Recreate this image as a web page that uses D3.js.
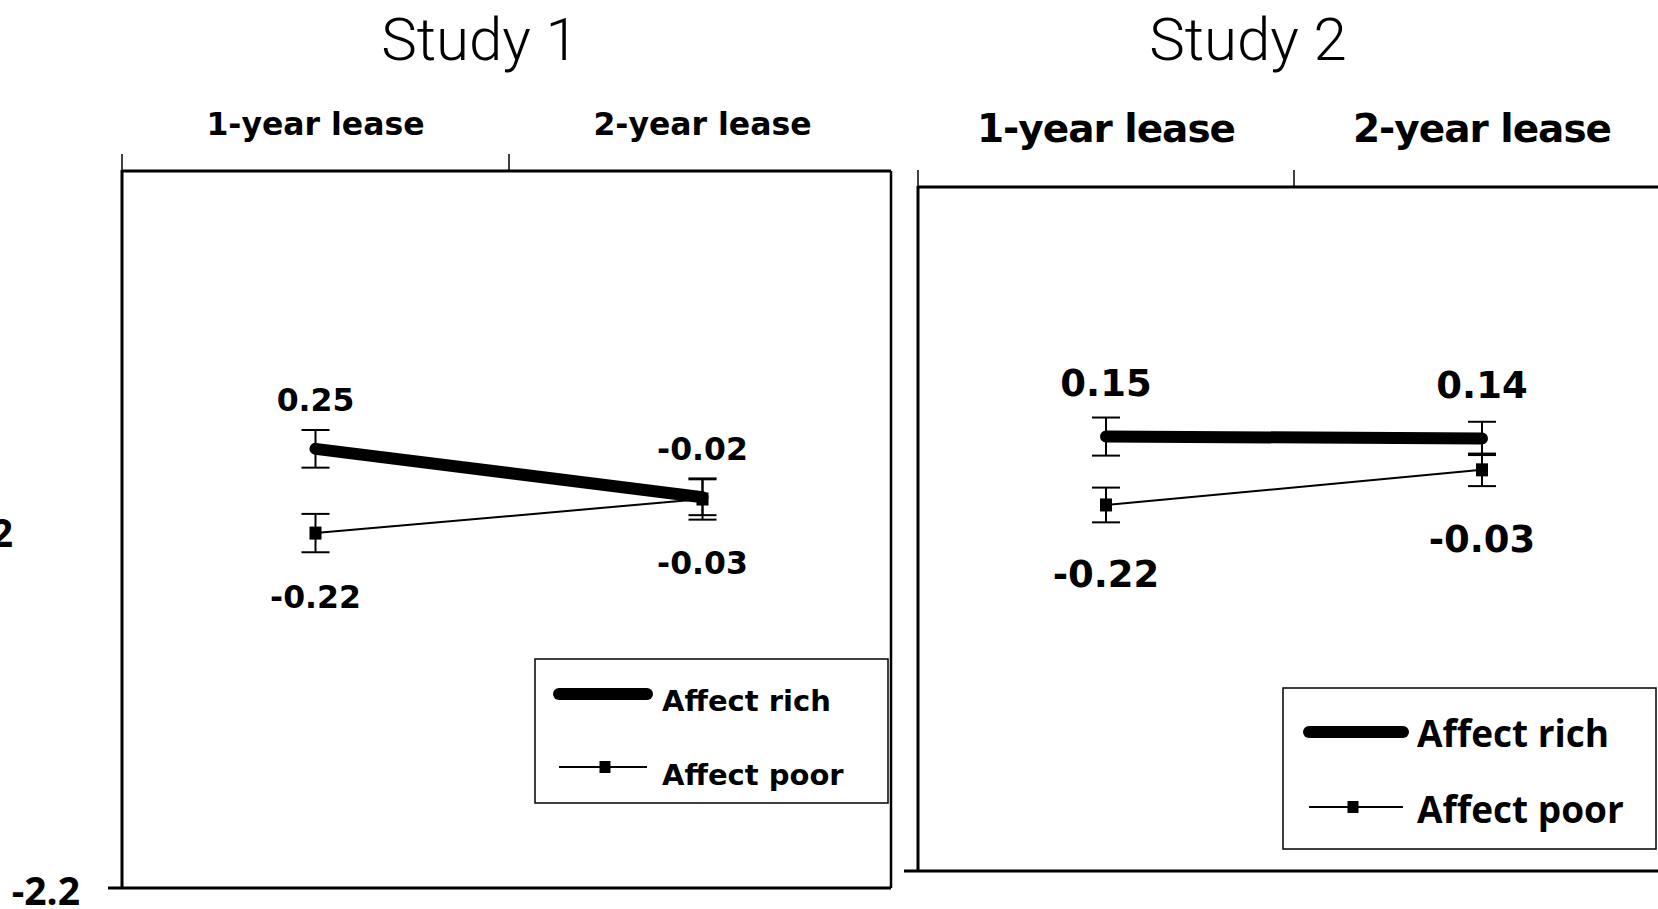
<!DOCTYPE html>
<html>
<head>
<meta charset="utf-8">
<script src="https://cdn.jsdelivr.net/npm/d3@7"></script>
<style>
  body { margin: 0; background: #fff; }
  svg { display: block; }
</style>
</head>
<body>
<div id="chart"></div>
<script>
// values
const categories = ["1-year lease", "2-year lease"];
const studies = ["Study 1", "Study 2"];
const seriesNames = ["Affect rich", "Affect poor"];

const study1Rich = [0.25, -0.02];
const study1Poor = [-0.22, -0.03];
const study1RichErr = [0.105, 0.10];
const study1PoorErr = [0.107, 0.115];

const study2Rich = [0.15, 0.14];
const study2Poor = [-0.22, -0.03];
const study2RichErr = [0.103, 0.09];
const study2PoorErr = [0.094, 0.088];

const yDomain1 = [-2.2, 1.8];
const yDomain2 = [-2.2, 1.5];
const yTicks = [-2.2, -0.2];

const width = 1658, height = 909;

// where each panel sits on the page (px)
const panels = [
  { title: studies[0], titleX: 480, left: 122, right: 896, boxRight: 891, top: 171, bottom: 888,
    yDomain: yDomain1, rich: study1Rich, poor: study1Poor, richErr: study1RichErr, poorErr: study1PoorErr,
    catFont: 31.5, catSpacing: 0, catY: 124, valFont: 31.5, above: 49, below: 64,
    legend: { x: 535, y: 659, w: 353, h: 144, line: [559, 647], richY: 694, poorY: 767, marker: 605,
              textX: 662, richText: 701, poorText: 775, family: "DejaVu Sans", size: 29 } },
  { title: studies[1], titleX: 1248, left: 918, right: 1670, boxRight: null, top: 187, bottom: 871,
    yDomain: yDomain2, rich: study2Rich, poor: study2Poor, richErr: study2RichErr, poorErr: study2PoorErr,
    catFont: 39, catSpacing: -1, catY: 128, valFont: 37, above: 54, below: 69,
    legend: { x: 1283, y: 688, w: 373, h: 161, line: [1309, 1403], richY: 732, poorY: 807, marker: 1353,
              textX: 1417, richText: 734, poorText: 810, family: "Open Sans", size: 37 } }
];

const svg = d3.select("#chart")
    .append("svg")
    .attr("width", width)
    .attr("height", height)
    .attr("viewBox", [0, 0, width, height]);

svg.append("rect").attr("width", width).attr("height", height).attr("fill", "#fff");

const boldFont = "'DejaVu Sans', sans-serif";

panels.forEach((p, pi) => {
    const x = d3.scaleBand().domain(categories).range([p.left, p.right]);
    const y = d3.scaleLinear().domain(p.yDomain).range([p.bottom, p.top]);
    const cx = i => x(categories[i]) + x.bandwidth() / 2;
    const g = svg.append("g");

    // title
    g.append("text")
        .attr("x", p.titleX).attr("y", 38).attr("dy", "0.36em")
        .attr("text-anchor", "middle")
        .style("font-family", "Roboto, sans-serif").style("font-weight", 300)
        .style("font-size", "60px")
        .text(p.title);

    // frame: left, top, bottom (+ right on panel 1)
    const rightEdge = p.boxRight || width + 10;
    g.append("line").attr("x1", p.left).attr("x2", p.left).attr("y1", p.top - 1).attr("y2", p.bottom + 1)
        .attr("stroke", "#000").attr("stroke-width", 3);
    g.append("line").attr("x1", p.left).attr("x2", rightEdge).attr("y1", p.top).attr("y2", p.top)
        .attr("stroke", "#000").attr("stroke-width", 3);
    g.append("line").attr("x1", p.left - 14).attr("x2", rightEdge).attr("y1", p.bottom).attr("y2", p.bottom)
        .attr("stroke", "#000").attr("stroke-width", 3);
    if (p.boxRight) {
        g.append("line").attr("x1", p.boxRight).attr("x2", p.boxRight).attr("y1", p.top).attr("y2", p.bottom)
            .attr("stroke", "#000").attr("stroke-width", 2.5);
    }

    // category ticks sit between categories, labels above the band centres
    g.selectAll(".cat-tick")
        .data(categories)
        .join("line")
        .attr("x1", d => x(d)).attr("x2", d => x(d))
        .attr("y1", p.top).attr("y2", p.top - 17)
        .attr("stroke", "#000").attr("stroke-width", 1.5);

    g.selectAll(".cat-label")
        .data(categories)
        .join("text")
        .attr("x", d => x(d) + x.bandwidth() / 2)
        .attr("y", p.catY).attr("dy", "0.36em")
        .attr("text-anchor", "middle")
        .style("font-family", boldFont).style("font-weight", "bold")
        .style("font-size", p.catFont + "px")
        .style("letter-spacing", p.catSpacing + "px")
        .text(d => d);

    // y tick labels (left panel only; the upper one runs off the page edge as in the source)
    if (pi === 0) {
        const yLabelRight = [80, 13];
        g.selectAll(".y-label")
            .data(yTicks)
            .join("text")
            .attr("x", (d, i) => yLabelRight[i])
            .attr("y", d => y(d) + 3).attr("dy", "0.36em")
            .attr("text-anchor", "end")
            .style("font-family", "'Open Sans', sans-serif").style("font-weight", "bold")
            .style("font-size", "39px")
            .text(d => d.toFixed(1));
    }

    // error bars
    const capW = 14;
    const errs = [
        ...p.rich.map((v, i) => ({ i, v, e: p.richErr[i] })),
        ...p.poor.map((v, i) => ({ i, v, e: p.poorErr[i] }))
    ];
    const eb = g.selectAll(".err").data(errs).join("g").attr("class", "err")
        .attr("stroke", "#000").attr("stroke-width", 2);
    eb.append("line")
        .attr("x1", d => cx(d.i)).attr("x2", d => cx(d.i))
        .attr("y1", d => y(d.v + d.e)).attr("y2", d => y(d.v - d.e));
    eb.append("line")
        .attr("x1", d => cx(d.i) - capW).attr("x2", d => cx(d.i) + capW)
        .attr("y1", d => y(d.v + d.e)).attr("y2", d => y(d.v + d.e));
    eb.append("line")
        .attr("x1", d => cx(d.i) - capW).attr("x2", d => cx(d.i) + capW)
        .attr("y1", d => y(d.v - d.e)).attr("y2", d => y(d.v - d.e));

    const line = d3.line().x((d, i) => cx(i)).y(d => y(d));

    // affect poor: thin line with square markers
    g.append("path").datum(p.poor)
        .attr("d", line).attr("fill", "none")
        .attr("stroke", "#000").attr("stroke-width", 2);

    // affect rich: heavy line
    g.append("path").datum(p.rich)
        .attr("d", line).attr("fill", "none")
        .attr("stroke", "#000").attr("stroke-width", 12)
        .attr("stroke-linecap", "round");

    g.selectAll(".poor-mark")
        .data(p.poor)
        .join("rect")
        .attr("x", (d, i) => cx(i) - 6).attr("y", d => y(d) - 6.5)
        .attr("width", 12).attr("height", 13)
        .attr("fill", "#000");

    // value labels: rich above, poor below
    g.selectAll(".rich-label")
        .data(p.rich)
        .join("text")
        .attr("x", (d, i) => cx(i)).attr("y", d => y(d) - p.above).attr("dy", "0.36em")
        .attr("text-anchor", "middle")
        .style("font-family", boldFont).style("font-weight", "bold")
        .style("font-size", p.valFont + "px")
        .text(d => d.toFixed(2));

    g.selectAll(".poor-label")
        .data(p.poor)
        .join("text")
        .attr("x", (d, i) => cx(i)).attr("y", d => y(d) + p.below).attr("dy", "0.36em")
        .attr("text-anchor", "middle")
        .style("font-family", boldFont).style("font-weight", "bold")
        .style("font-size", p.valFont + "px")
        .text(d => d.toFixed(2));

    // legend
    const L = p.legend;
    const lg = g.append("g");
    lg.append("rect")
        .attr("x", L.x).attr("y", L.y).attr("width", L.w).attr("height", L.h)
        .attr("fill", "#fff").attr("stroke", "#000").attr("stroke-width", 1.5);
    lg.append("line")
        .attr("x1", L.line[0]).attr("x2", L.line[1]).attr("y1", L.richY).attr("y2", L.richY)
        .attr("stroke", "#000").attr("stroke-width", 12).attr("stroke-linecap", "round");
    lg.append("line")
        .attr("x1", L.line[0]).attr("x2", L.line[1]).attr("y1", L.poorY).attr("y2", L.poorY)
        .attr("stroke", "#000").attr("stroke-width", 2);
    lg.append("rect")
        .attr("x", L.marker - 5.5).attr("y", L.poorY - 6).attr("width", 11).attr("height", 12)
        .attr("fill", "#000");
    lg.selectAll(".leg-text")
        .data(seriesNames)
        .join("text")
        .attr("x", L.textX)
        .attr("y", (d, i) => i === 0 ? L.richText : L.poorText).attr("dy", "0.36em")
        .style("font-family", "'" + L.family + "', sans-serif").style("font-weight", "bold")
        .style("font-size", L.size + "px")
        .text(d => d);
});
</script>
</body>
</html>
